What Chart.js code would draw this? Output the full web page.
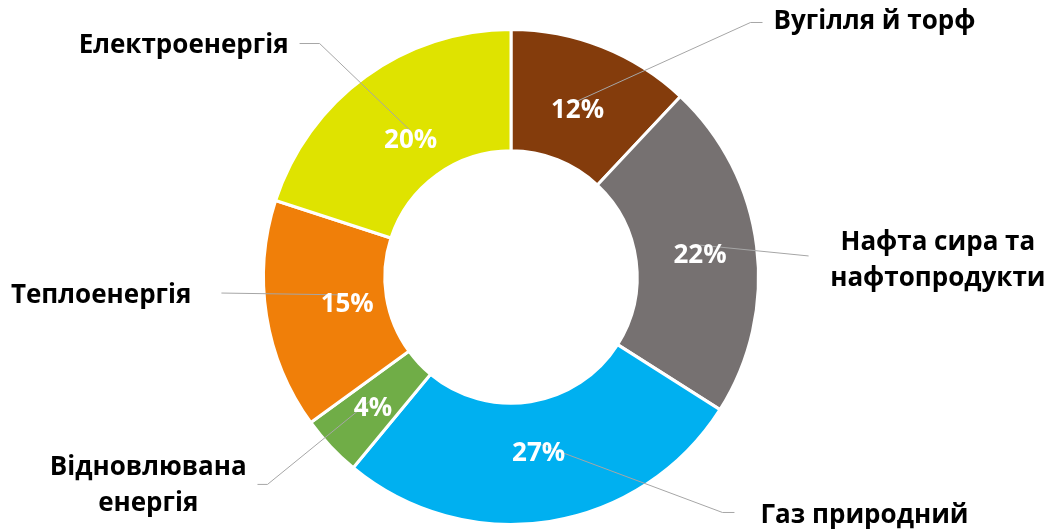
<!DOCTYPE html>
<html>
<head>
<meta charset="utf-8">
<script src="https://cdn.jsdelivr.net/npm/chart.js@4/dist/chart.umd.min.js"></script>
<style>
  html, body { margin: 0; padding: 0; background: #fff; }
  #wrap { width: 1047px; height: 531px; }
</style>
</head>
<body>
<div id="wrap"><canvas id="chart"></canvas></div>
<script>
// energy consumption structure, %
const categories = [
  "Вугілля й торф",
  "Нафта сира та нафтопродукти",
  "Газ природний",
  "Відновлювана енергія",
  "Теплоенергія",
  "Електроенергія",
];
const shares = [12, 22, 27, 4, 15, 20];
const colors = ["#843C0C", "#767171", "#00B0F0", "#70AD47", "#F07F09", "#DFE300"];

// where the % text sits along each slice's mid-angle, as a share of outer radius
const pctRadius = [0.73, 0.77, 0.715, 0.765, 0.67, 0.69];

// outer label layout: text lines, leader path (offsets from centre in px at R=247), text anchor
const outerLabels = [
  { lines: ["Вугілля й торф"], path: [[239, -254], [251, -254]], text: [262, -255], align: "left" },
  { lines: ["Нафта сира та", "нафтопродукти"], path: [[297, -21]], text: [426, -34], align: "center" },
  { lines: ["Газ природний"], path: [[211, 235], [223, 235]], text: [249, 238], align: "left" },
  { lines: ["Відновлювана", "енергія"], path: [[-243, 207], [-253, 207]], text: [-362, 190], align: "center" },
  { lines: ["Теплоенергія"], path: [[-289, 16]], text: [-319, 19], align: "right" },
  { lines: ["Електроенергія"], path: [[-191, -233], [-211, -233]], text: [-222, -231], align: "right" },
];

const FONT = "bold 26px 'Open Sans', sans-serif";

const labelPlugin = {
  id: "labels",
  afterDatasetsDraw(chart) {
    const ctx = chart.ctx;
    const arcs = chart.getDatasetMeta(0).data;
    if (!arcs.length) return;
    const cx = arcs[0].x, cy = arcs[0].y;
    const R = arcs[0].outerRadius;
    const k = R / 247;
    const pts = arcs.map((arc, i) => {
      const a = (arc.startAngle + arc.endAngle) / 2;
      return { x: cx + Math.cos(a) * R * pctRadius[i], y: cy + Math.sin(a) * R * pctRadius[i] };
    });
    ctx.save();
    // leader lines
    ctx.strokeStyle = "#A6A6A6";
    ctx.lineWidth = 1;
    pts.forEach((p, i) => {
      const L = outerLabels[i];
      ctx.beginPath();
      ctx.moveTo(p.x, p.y - 8);
      L.path.forEach(([dx, dy]) => ctx.lineTo(cx + dx * k, cy + dy * k));
      ctx.stroke();
    });
    // percentages
    ctx.font = FONT;
    ctx.fillStyle = "#fff";
    ctx.textAlign = "center";
    ctx.textBaseline = "middle";
    pts.forEach((p, i) => ctx.fillText(shares[i] + "%", p.x, p.y + 2));
    // category labels
    ctx.fillStyle = "#000";
    outerLabels.forEach((L) => {
      ctx.textAlign = L.align;
      const x = cx + L.text[0] * k;
      const y0 = cy + L.text[1] * k;
      L.lines.forEach((t, j) => ctx.fillText(t, x, y0 + j * 36));
    });
    ctx.restore();
  },
};

new Chart(document.getElementById("chart"), {
  type: "doughnut",
  data: {
    labels: categories,
    datasets: [
      {
        data: shares,
        backgroundColor: colors,
        borderColor: "#fff",
        borderWidth: 3,
      },
    ],
  },
  options: {
    responsive: true,
    maintainAspectRatio: false,
    animation: false,
    cutout: "51%",
    layout: { padding: { top: 28, bottom: 5, left: 0, right: 25 } },
    plugins: {
      legend: { display: false },
      tooltip: { enabled: false },
    },
  },
  plugins: [labelPlugin],
});
</script>
</body>
</html>
